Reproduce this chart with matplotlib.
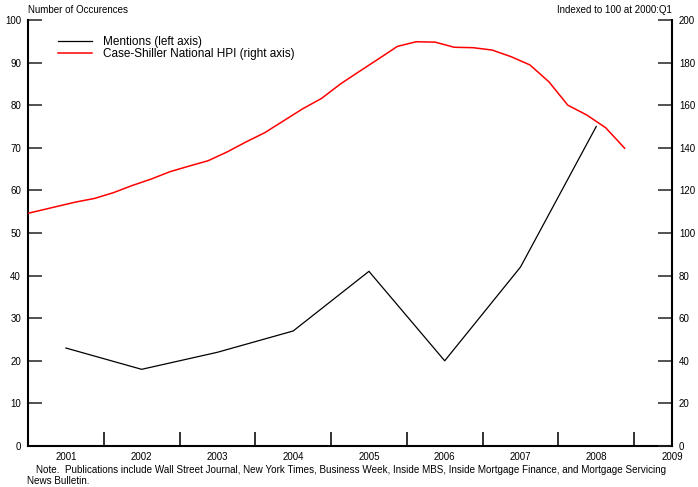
import matplotlib
matplotlib.use("Agg")
import matplotlib.pyplot as plt
from matplotlib.ticker import FixedLocator, NullFormatter

plt.rcParams["font.family"] = ["Liberation Sans", "DejaVu Sans"]

# annual counts, plotted at mid-year
years = [2001, 2002, 2003, 2004, 2005, 2006, 2007, 2008]
mentions = [23, 18, 22, 27, 41, 20, 42, 75]

# Case-Shiller national HPI, quarterly from 2000:Q4 (2000:Q1 = 100)
hpi_start = (2000, 4)
hpi = [108.2,
       110.3, 112.4, 114.5, 116.2,
       118.9, 122.3, 125.3, 128.8,
       131.4, 133.9, 138.0, 142.7,
       147.1, 152.7, 158.3, 163.2,
       170.0, 175.9, 181.7, 187.6,
       189.8, 189.6, 187.2, 187.0,
       185.9, 182.8, 178.9, 171.0,
       160.0, 155.4, 149.4, 139.8]

year_labels = ["2001", "2002", "2003", "2004", "2005", "2006", "2007", "2008", "2009"]

mention_x = [y + 0.5 for y in years]
hpi_x = []
yr, q = hpi_start
for _ in hpi:
    hpi_x.append(yr + (q - 0.5) / 4)
    q += 1
    if q > 4:
        q, yr = 1, yr + 1

W, H = 698, 487
fig = plt.figure(figsize=(W / 100, H / 100), dpi=100)
ax = fig.add_axes([28 / W, 1 - 446 / H, 644 / W, 426 / H])
ax2 = ax.twinx()

ax.plot(mention_x, mentions, color="black", lw=0.9, label="Mentions (left axis)")
ax2.plot(hpi_x, hpi, color="red", lw=1.1, label="Case-Shiller National HPI (right axis)")

ax.set_xlim(2001.0, 2009.5)
ax.set_ylim(0, 100)
ax2.set_ylim(0, 200)

for a in (ax, ax2):
    a.spines["top"].set_visible(False)
    for s in a.spines.values():
        s.set_linewidth(1.5)
ax.spines["right"].set_visible(False)
ax2.spines["left"].set_visible(False)
ax2.spines["bottom"].set_visible(False)

ax.set_yticks(range(0, 101, 10))
ax2.set_yticks(range(0, 201, 20))
ax.tick_params(axis="y", direction="in", length=10, width=1.1, color="#222222",
               labelsize=7, pad=5)
ax2.tick_params(axis="y", direction="in", length=10, width=1.1, color="#222222",
                labelsize=7, pad=5)

# year boundaries get the long ticks, labels sit mid-year
ax.xaxis.set_major_locator(FixedLocator(range(2002, 2010)))
ax.xaxis.set_major_formatter(NullFormatter())
ax.xaxis.set_minor_locator(FixedLocator([y + 0.5 for y in range(2001, 2010)]))
ax.set_xticklabels(year_labels, minor=True)
ax.tick_params(axis="x", which="major", direction="in", length=10, width=1.3,
               color="#222222")
ax.tick_params(axis="x", which="minor", length=0, labelsize=7, pad=4)

h1, l1 = ax.get_legend_handles_labels()
h2, l2 = ax2.get_legend_handles_labels()
ax2.legend(h1 + h2, l1 + l2, loc="upper left", bbox_to_anchor=(30 / 644, 0.962),
           frameon=False, fontsize=8.5, handlelength=2.9, handletextpad=0.9,
           labelspacing=-0.03, borderpad=0, borderaxespad=0)

fig.text(28 / W, 1 - 10 / H, "Number of Occurences", fontsize=7, va="center", ha="left")
fig.text(672 / W, 1 - 10 / H, "Indexed to 100 at 2000:Q1", fontsize=7, va="center", ha="right")
fig.text(36 / W, 1 - 470 / H,
         "Note.  Publications include Wall Street Journal, New York Times, Business Week, "
         "Inside MBS, Inside Mortgage Finance, and Mortgage Servicing",
         fontsize=7.15, va="center", ha="left")
fig.text(27 / W, 1 - 481 / H, "News Bulletin.", fontsize=7.15, va="center", ha="left")

fig.savefig("out.png", dpi=100)
